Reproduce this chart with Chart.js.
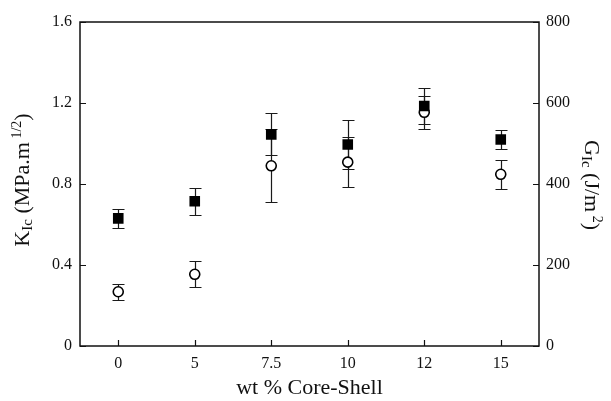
<!DOCTYPE html>
<html>
<head>
<meta charset="utf-8">
<script src="https://cdn.jsdelivr.net/npm/chart.js@4/dist/chart.umd.min.js"></script>
<style>
  html, body { margin: 0; padding: 0; background: #fff; }
  #wrap { width: 611px; height: 401px; }
</style>
</head>
<body>
<div id="wrap"><canvas id="toughness_chart"></canvas></div>
<script>
const labels = ["0", "5", "7.5", "10", "12", "15"];
const kic = [0.63, 0.715, 1.045, 0.995, 1.185, 1.02];
const kic_err = [0.045, 0.066, 0.104, 0.12, 0.09, 0.046];
const gic = [134, 177, 445, 454, 577, 424];
const gic_err = [20, 32, 90, 62, 40, 36];
const kic_ticks = [0, 0.4, 0.8, 1.2, 1.6];
const gic_ticks = [0, 200, 400, 600, 800];

const serif = "'Liberation Serif', 'DejaVu Serif', serif";
const ink = "#111";

// error bars under the markers
const errorBars = {
  id: "errorBars",
  beforeDatasetsDraw(chart) {
    const ctx = chart.ctx;
    const x = chart.scales.x;
    ctx.save();
    ctx.strokeStyle = "#1a1a1a";
    ctx.lineWidth = 1.2;
    chart.data.datasets.forEach(ds => {
      const y = chart.scales[ds.yAxisID];
      ds.data.forEach((v, i) => {
        const px = Math.round(x.getPixelForValue(i)) + 0.5;
        const top = Math.round(y.getPixelForValue(v + ds.err[i])) + 0.5;
        const bot = Math.round(y.getPixelForValue(v - ds.err[i])) + 0.5;
        ctx.beginPath();
        ctx.moveTo(px, top); ctx.lineTo(px, bot);
        ctx.moveTo(px - 6, top); ctx.lineTo(px + 6, top);
        ctx.moveTo(px - 6, bot); ctx.lineTo(px + 6, bot);
        ctx.stroke();
      });
    });
    ctx.restore();
  }
};

function drawRich(ctx, parts, cx, cy, angle) {
  ctx.save();
  ctx.translate(cx, cy);
  ctx.rotate(angle);
  ctx.fillStyle = ink;
  ctx.textBaseline = "middle";
  let total = 0;
  parts.forEach(p => {
    ctx.font = p.size + "px " + serif;
    total += ctx.measureText(p.t).width;
  });
  let pos = -total / 2;
  parts.forEach(p => {
    ctx.font = p.size + "px " + serif;
    ctx.fillText(p.t, pos, p.dy || 0);
    pos += ctx.measureText(p.t).width;
  });
  ctx.restore();
}

// frame, inward ticks and axis titles
const frame = {
  id: "frame",
  afterDraw(chart) {
    const ctx = chart.ctx;
    const a = chart.chartArea;
    ctx.save();
    ctx.strokeStyle = ink;
    ctx.lineWidth = 1.5;
    ctx.strokeRect(a.left, a.top, a.right - a.left, a.bottom - a.top);
    ctx.lineWidth = 1.2;
    ctx.beginPath();
    chart.scales.x.ticks.forEach((t, i) => {
      const px = Math.round(chart.scales.x.getPixelForValue(i)) + 0.5;
      ctx.moveTo(px, a.bottom); ctx.lineTo(px, a.bottom - 6);
    });
    kic_ticks.forEach(v => {
      const py = Math.round(chart.scales.yK.getPixelForValue(v)) + 0.5;
      ctx.moveTo(a.left, py); ctx.lineTo(a.left + 6, py);
    });
    gic_ticks.forEach(v => {
      const py = Math.round(chart.scales.yG.getPixelForValue(v)) + 0.5;
      ctx.moveTo(a.right, py); ctx.lineTo(a.right - 6, py);
    });
    ctx.stroke();
    ctx.restore();

    drawRich(ctx, [
      {t: "K", size: 22},
      {t: "Ic", size: 15, dy: 5},
      {t: " (MPa.m", size: 22},
      {t: " 1/2", size: 14, dy: -6},
      {t: ")", size: 22}
    ], 23, 180, -Math.PI / 2);

    drawRich(ctx, [
      {t: "G", size: 22},
      {t: "Ic", size: 15, dy: 5},
      {t: " (J/m", size: 22},
      {t: " 2", size: 14, dy: -6},
      {t: ")", size: 22}
    ], 591, 185, Math.PI / 2);
  }
};

const toughness_ctx = document.getElementById("toughness_chart");

const toughness_chart = new Chart(toughness_ctx, {
  type: "line",
  data: {
    labels: labels,
    datasets: [
      {
        label: "KIc",
        data: kic,
        err: kic_err,
        yAxisID: "yK",
        showLine: false,
        pointStyle: "rect",
        pointRadius: 7.5,
        pointHoverRadius: 7.5,
        backgroundColor: "#000",
        borderColor: "#000",
        borderWidth: 0,
      },
      {
        label: "GIc",
        data: gic,
        err: gic_err,
        yAxisID: "yG",
        showLine: false,
        pointStyle: "circle",
        pointRadius: 5,
        pointHoverRadius: 5,
        backgroundColor: "#fff",
        borderColor: "#000",
        borderWidth: 1.6,
      },
    ],
  },
  plugins: [errorBars, frame],
  options: {
    responsive: true,
    maintainAspectRatio: false,
    animation: false,
    layout: { padding: { top: 22, left: 0, right: 0, bottom: 0 } },
    plugins: {
      legend: { display: false },
      tooltip: { enabled: false },
    },
    scales: {
      x: {
        offset: true,
        grid: { display: false, drawTicks: false },
        border: { display: false },
        ticks: {
          color: ink,
          font: { family: serif, size: 16 },
          padding: 8,
        },
        title: {
          display: true,
          text: "wt % Core-Shell",
          color: ink,
          font: { family: serif, size: 22 },
          padding: { top: 2, bottom: 0 },
        },
        afterFit: s => { s.height = 55; },
      },
      yK: {
        position: "left",
        min: 0,
        max: 1.6,
        afterBuildTicks: s => { s.ticks = kic_ticks.map(v => ({ value: v })); },
        grid: { display: false, drawTicks: false },
        border: { display: false },
        ticks: {
          color: ink,
          font: { family: serif, size: 16 },
          padding: 8,
          callback: v => v === 0 ? "0" : v.toFixed(1),
        },
        afterFit: s => { s.width = 80; },
      },
      yG: {
        position: "right",
        min: 0,
        max: 800,
        afterBuildTicks: s => { s.ticks = gic_ticks.map(v => ({ value: v })); },
        grid: { display: false, drawTicks: false },
        border: { display: false },
        ticks: {
          color: ink,
          font: { family: serif, size: 16 },
          padding: 7,
        },
        afterFit: s => { s.width = 72; },
      },
    },
  },
});
</script>
</body>
</html>
